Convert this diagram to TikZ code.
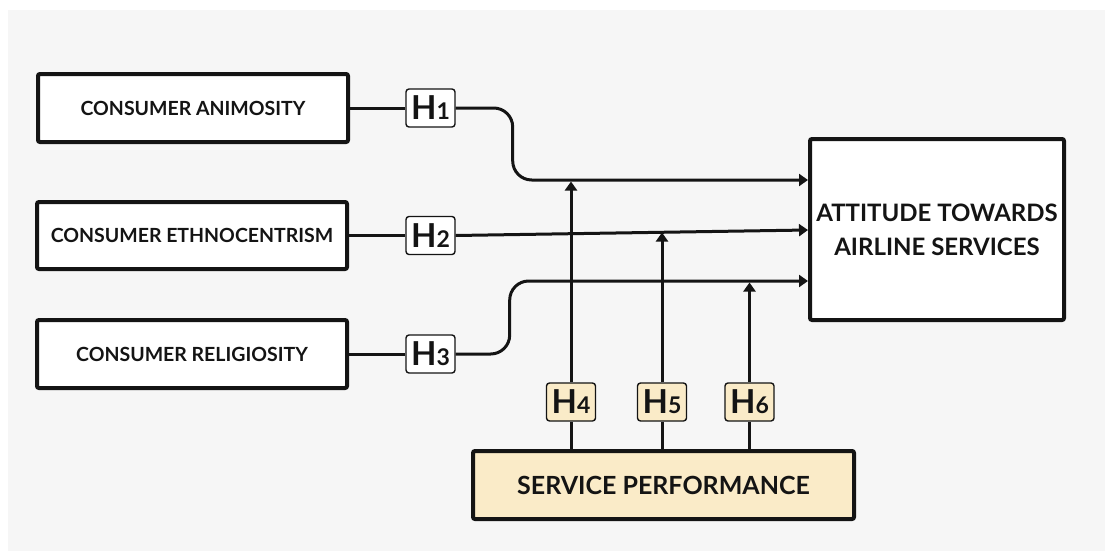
\documentclass[tikz,border=0pt]{standalone}
\usepackage{fontspec}
\setmainfont{Lato}
\usetikzlibrary{arrows.meta,calc}
\definecolor{canvas}{HTML}{F6F6F6}
\definecolor{cream}{HTML}{FAEBC8}
\definecolor{ink}{HTML}{141414}
\newcommand\hyplabel[1]{{\fontsize{33}{33}\selectfont H}{\fontsize{23}{23}\selectfont #1}}

\begin{document}
\begin{tikzpicture}[x=1pt,y=-1pt,
  construct/.style={draw=ink, line width=4pt, fill=white, rounded corners=2pt,
    inner sep=0pt, text=ink, font=\bfseries\fontsize{19.5}{22}\selectfont},
  hyp/.style={draw=ink, line width=1.4pt, fill=white, rounded corners=3pt,
    minimum width=49pt, minimum height=38pt, inner sep=0pt, text=ink, font=\bfseries},
  modhyp/.style={hyp, fill=cream},
  link/.style={draw=ink, line width=3pt},
  tip/.style={-{Triangle[width=12pt,length=9pt]}},
]
\useasboundingbox (0,0) rectangle (1105,551);
\fill[canvas] (8,10) rectangle (1105,551);

% independent constructs
\node[construct, minimum width=310pt, minimum height=68pt] (ani) at (193,108) {CONSUMER ANIMOSITY};
\node[construct, minimum width=310pt, minimum height=67pt] (eth) at (192,235.5) {CONSUMER ETHNOCENTRISM};
\node[construct, minimum width=310pt, minimum height=68pt] (rel) at (192,354) {CONSUMER RELIGIOSITY};

% dependent construct
\node[construct, minimum width=254pt, minimum height=181pt, align=center,
  font=\bfseries\fontsize{24}{34}\selectfont] (att) at (937,229.5) {ATTITUDE TOWARDS\\AIRLINE SERVICES};

% moderator
\node[construct, fill=cream, minimum width=381pt, minimum height=68pt,
  font=\bfseries\fontsize{25}{28}\selectfont] (sp) at (663.5,485) {SERVICE PERFORMANCE};

% hypothesis labels
\node[hyp] (h1) at (430.5,108) {\hyplabel{1}};
\node[hyp] (h2) at (430.5,235.5) {\hyplabel{2}};
\node[hyp] (h3) at (430.5,354) {\hyplabel{3}};
\node[modhyp] (h4) at (571,402) {\hyplabel{4}};
\node[modhyp] (h5) at (662,402) {\hyplabel{5}};
\node[modhyp] (h6) at (749.5,402) {\hyplabel{6}};

% entry points on the attitude box
\coordinate (in1) at ([yshift=49.5pt]att.west);
\coordinate (in2) at ([yshift=-0.5pt]att.west);
\coordinate (in3) at ([yshift=-51.5pt]att.west);

% direct effects
\draw[link] (ani.east) -- (h1.west);
\draw[link] (eth.east) -- (h2.west);
\draw[link] (rel.east) -- (h3.west);
\draw[link, tip, rounded corners=19pt] (h1.east) -- ++(57,0) |- (in1);
\draw[link, tip] (h2.east) -- (in2);
\draw[link, tip, rounded corners=19pt] (h3.east) -- ++(54,0) |- (in3);

% moderating effects
\draw[link] (sp.north -| h4) -- (h4.south);
\draw[link] (sp.north -| h5) -- (h5.south);
\draw[link] (sp.north -| h6) -- (h6.south);
\draw[link, tip] (h4.north) -- ($(h4 |- in1)+(0,1.5)$);
\draw[link, tip] (h5.north) -- ($(h5 |- in2)+(0,2.5)$);
\draw[link, tip] (h6.north) -- ($(h6 |- in3)+(0,1.5)$);
\end{tikzpicture}
\end{document}
